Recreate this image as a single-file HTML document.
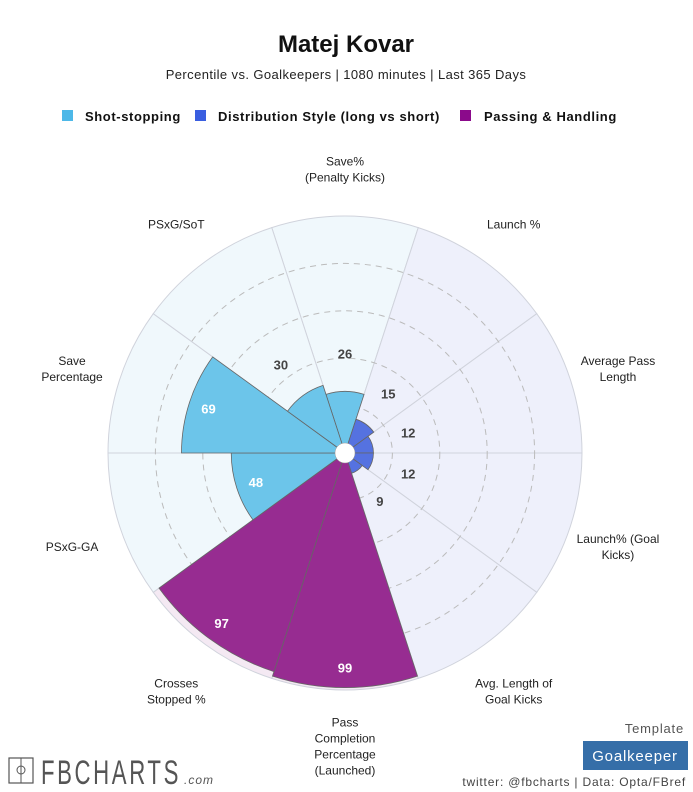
<!DOCTYPE html>
<html><head><meta charset="utf-8"><style>
body{margin:0;background:#fff;font-family:"Liberation Sans",sans-serif;}
#wrap{position:relative;width:693px;height:792px;overflow:hidden;}
</style></head><body>
<div id="wrap">
<svg id="chart" width="693" height="792" xmlns="http://www.w3.org/2000/svg">
<text x="346" y="52" text-anchor="middle" font-size="24" font-weight="bold" fill="#111">Matej Kovar</text>
<text x="346" y="79" text-anchor="middle" font-size="13" fill="#222" letter-spacing="0.4">Percentile vs. Goalkeepers | 1080 minutes | Last 365 Days</text>
<g>
<rect x="62" y="110" width="11" height="11" fill="#4db8e8"/>
<text x="85" y="121" font-size="13" font-weight="bold" fill="#111" letter-spacing="0.6">Shot-stopping</text>
<rect x="195" y="110" width="11" height="11" fill="#3a5ee0"/>
<text x="218" y="121" font-size="13" font-weight="bold" fill="#111" letter-spacing="0.6">Distribution Style (long vs short)</text>
<rect x="460" y="110" width="11" height="11" fill="#8b0a8b"/>
<text x="484" y="121" font-size="13" font-weight="bold" fill="#111" letter-spacing="0.6">Passing &amp; Handling</text>
</g>
<g id="bg"></g><g id="grid"></g><g id="bars"></g><g id="labels"></g>
<g>
<rect x="9" y="758" width="24" height="25" fill="none" stroke="#555" stroke-width="1.2"/>
<line x1="21" y1="758" x2="21" y2="783" stroke="#555" stroke-width="1"/>
<circle cx="21" cy="770" r="4" fill="none" stroke="#555" stroke-width="1"/>
<text x="41" y="784" font-size="34" fill="#555" letter-spacing="4" textLength="140" lengthAdjust="spacingAndGlyphs">FBCHARTS</text>
<text x="184" y="784" font-size="12" font-style="italic" fill="#555" letter-spacing="1">.com</text>
</g>
<text x="684" y="733" text-anchor="end" font-size="13" fill="#555" letter-spacing="0.8">Template</text>
<rect x="583" y="741" width="105" height="29" fill="#356ea8"/>
<text x="635" y="761" text-anchor="middle" font-size="15" fill="#fff" letter-spacing="0.8">Goalkeeper</text>
<text x="686" y="786" text-anchor="end" font-size="12" fill="#444" letter-spacing="0.8">twitter: @fbcharts | Data: Opta/FBref</text>
</svg>
</div>
<script>
const categories=["Save%\n(Penalty Kicks)","Launch %","Average Pass\nLength","Launch% (Goal\nKicks)","Avg. Length of\nGoal Kicks","Pass\nCompletion\nPercentage\n(Launched)","Crosses\nStopped %","PSxG-GA","Save\nPercentage","PSxG/SoT"];
const values=[26,15,12,12,9,99,97,48,69,30];
const groups=[0,1,1,1,1,2,2,0,0,0];
const gridTicks=[20,40,60,80];
const NS="http://www.w3.org/2000/svg";
const cx=345,cy=453,R=237,maxV=100;
const barCol=["#6cc5ea","#5572e0","#972c91"];
const bgCol=["#f0f8fc","#eef0fb","#f4e9f3"];
function rScale(v){return v/maxV*R;}
function aScale(i){return (i*360/categories.length-18)*Math.PI/180;}
function pt(r,a){return [cx+r*Math.sin(a),cy-r*Math.cos(a)];}
function sector(r,a0,a1){const p0=pt(r,a0),p1=pt(r,a1);return `M${cx},${cy}L${p0[0]},${p0[1]}A${r},${r} 0 0 1 ${p1[0]},${p1[1]}Z`;}
function mk(tag,at,parent){const e=document.createElementNS(NS,tag);for(const k in at)e.setAttribute(k,at[k]);document.getElementById(parent).appendChild(e);return e;}
const n=categories.length,step=2*Math.PI/n;
categories.forEach((c,i)=>{
  const a0=aScale(i),a1=a0+step;
  const b=mk('path',{d:sector(R,a0,a1),fill:bgCol[groups[i]],stroke:'#d0d3dc','stroke-width':1},'bg');
  
  
});
gridTicks.forEach(t=>{
  const g=mk('circle',{cx:cx,cy:cy,r:rScale(t),fill:'none',stroke:'#bbb','stroke-dasharray':'6,5','stroke-width':1},'grid');
  
  
});
values.forEach((v,i)=>{
  const a0=aScale(i),a1=a0+step,am=a0+step/2,r=rScale(v);
  const b=mk('path',{d:sector(r,a0,a1),fill:barCol[groups[i]],stroke:'#666','stroke-width':0.8},'bars');
  
  
  const inside=v>=40;
  const p=pt(inside?r-20:r+38,am);
  const t=mk('text',{x:p[0],y:p[1]+5,'text-anchor':'middle','font-size':13,'font-weight':'bold',fill:inside?'#fff':'#444'},'labels');
  t.textContent=v;
  
  
  const lines=categories[i].split('\n');
  const lp=pt(285,am);
  const shift=5-3.5*Math.cos(am);
  const ct=mk('text',{x:lp[0]+2*Math.sin(am),y:lp[1]-(lines.length-1)*8+4+shift,'text-anchor':'middle','font-size':12,fill:'#222'},'labels');
  
  
  lines.forEach((l,k)=>{const ts=document.createElementNS(NS,'tspan');ts.setAttribute('x',lp[0]+2*Math.sin(am));ts.setAttribute('dy',k?16:0);ts.textContent=l;ct.appendChild(ts);});
});
const hole=mk('circle',{cx:cx,cy:cy,r:10,fill:'#fff',stroke:'#999','stroke-width':0.5},'labels');


</script>
</body></html>
